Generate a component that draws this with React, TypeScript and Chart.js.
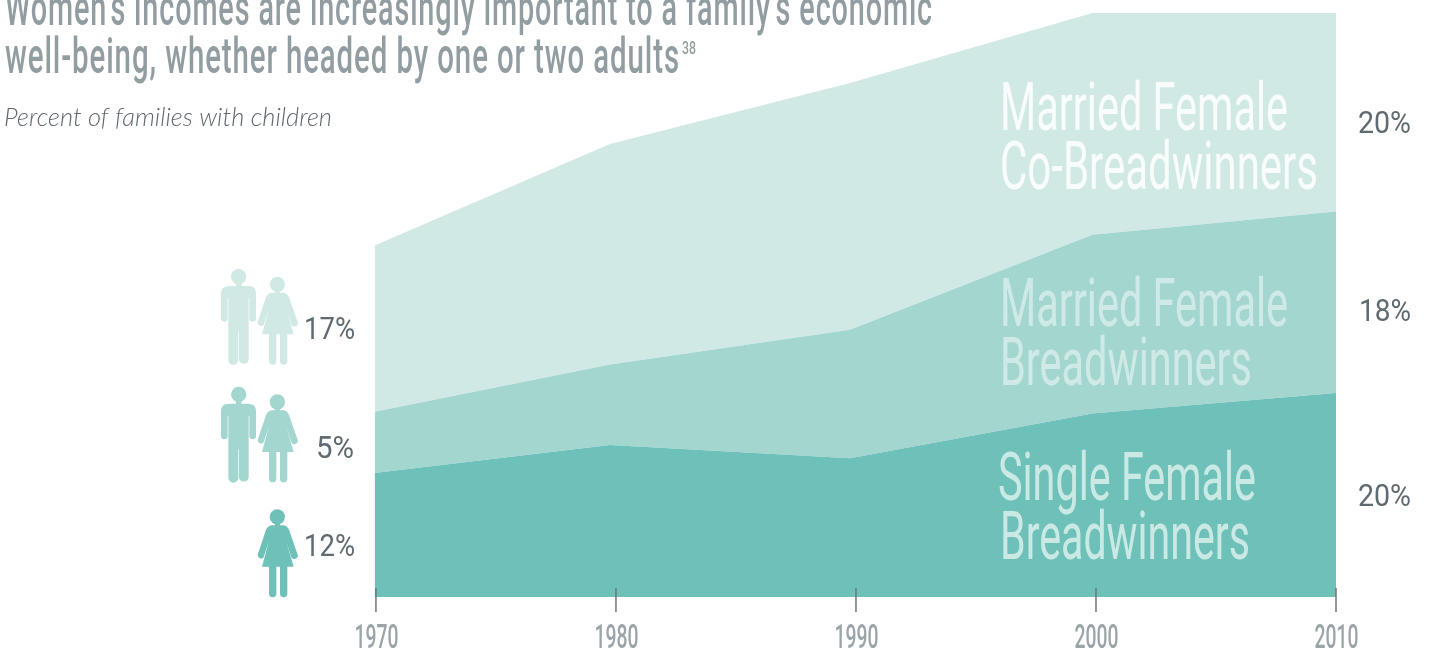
import React, { useEffect, useRef } from "react";
import { Chart, registerables } from "chart.js";

Chart.register(...registerables);

// Data
const tickYears = [1970, 1980, 1990, 2000, 2010];
const sampleYears = [1969.94, 1979.75, 1989.75, 1999.85, 2010];
const singleFemale = [12.15, 14.9, 13.6, 18.0, 20.0];
const marriedBreadwinner = [6.0, 7.9, 12.6, 17.5, 17.8];
const marriedCoBreadwinner = [16.3, 21.6, 24.2, 21.75, 19.45];
const leftLabels = ["17%", "5%", "12%"];
const rightLabels = ["20%", "18%", "20%"];
const titleLines = [
  "Women's incomes are increasingly important to a family's economic",
  "well-being, whether headed by one or two adults",
];
const subtitle = "Percent of families with children";
const footnote = "38";

const LIGHT = "#D0E9E5";
const MID = "#A4D6D0";
const DARK = "#6EC1B9";
const NUM = "#5F6A71";
const GREY = "#929DA2";

const MAN =
  "M63 175 L63 100 Q63 78 88 78 L108 78 L108 68 L124 68 L124 78 L143 78 Q168 78 168 100 L168 175 A10 10 0 0 1 148 175 L148 115 L146 115 L146 300 A15 15 0 0 1 117 300 L117 215 L115 215 L115 300 A15 15 0 0 1 85 300 L85 115 L83 115 L83 175 A10 10 0 0 1 63 175 Z";
const WOMAN =
  "M174 184 L198 112 Q203 98 218 98 L225 98 L225 90 L240 90 L240 98 L248 98 Q262 98 267 112 L292 184 A10 10 0 0 1 274 194 L258 145 L281 223 L262 223 L262 303 A11 11 0 0 1 240 303 L240 223 L229 223 L229 303 A11 11 0 0 1 207 303 L207 223 L186 223 L207 145 L191 194 A10 10 0 0 1 174 184 Z";

function person(ctx: CanvasRenderingContext2D, path: string, hx: number, hy: number, r: number, color: string, ox: number, oy: number) {
  ctx.save();
  ctx.translate(ox, oy);
  ctx.scale(1 / 3, 1 / 3);
  ctx.fillStyle = color;
  ctx.fill(new Path2D(path));
  ctx.beginPath();
  ctx.arc(hx, hy, r, 0, Math.PI * 2);
  ctx.fill();
  ctx.restore();
}

function fit(ctx: CanvasRenderingContext2D, text: string, x: number, base: number, width: number, font: string, color: string, spacing = "0px") {
  ctx.save();
  ctx.font = font;
  (ctx as any).letterSpacing = spacing;
  ctx.fillStyle = color;
  ctx.textAlign = "left";
  ctx.textBaseline = "alphabetic";
  const w = ctx.measureText(text).width;
  ctx.translate(x, base);
  ctx.scale(width / w, 1);
  ctx.fillText(text, 0, 0);
  ctx.restore();
}

const decor = {
  id: "decor",
  afterDatasetsDraw(chart: any) {
    const ctx: CanvasRenderingContext2D = chart.ctx;
    const xs = chart.scales.x;
    const cond = (s: number, w = 400) => `${w} ${s}px Roboto`;

    // Axis ticks + labels
    tickYears.forEach((yr) => {
      const px = xs.getPixelForValue(yr);
      ctx.save();
      ctx.strokeStyle = "#6C757A";
      ctx.lineWidth = 1.5;
      ctx.beginPath();
      ctx.moveTo(px, 588);
      ctx.lineTo(px, 612);
      ctx.stroke();
      ctx.restore();
      fit(ctx, String(yr), px - 21.5, 647.5, 44, cond(33, 500), "#9AA4A9");
    });

    // Title
    fit(ctx, titleLines[0], 5, 25, 928, cond(50, 500), GREY, "1.5px");
    fit(ctx, titleLines[1], 5, 73, 675, cond(50, 500), GREY, "1.5px");
    fit(ctx, footnote, 682, 54, 14, cond(19, 500), GREY);
    fit(ctx, subtitle, 4, 126, 328, "italic 300 25px Lato", "#5F696E");

    // Labels inside areas
    const big = cond(67, 400);
    fit(ctx, "Married Female", 1000, 130, 288, big, "#F8FCFB");
    fit(ctx, "Co-Breadwinners", 1000, 189, 318, big, "#F8FCFB");
    fit(ctx, "Married Female", 1000, 326, 288, big, "#CFEAE6");
    fit(ctx, "Breadwinners", 1000, 385, 252, big, "#CFEAE6");
    fit(ctx, "Single Female", 998, 500, 258, big, "#CBE9E4");
    fit(ctx, "Breadwinners", 1000, 559, 250, big, "#CBE9E4");

    // Side numbers
    const num = cond(32, 400);
    fit(ctx, leftLabels[0], 304, 339, 51, num, NUM);
    fit(ctx, leftLabels[1], 316, 458, 38, num, NUM);
    fit(ctx, leftLabels[2], 304, 556, 51, num, NUM);
    fit(ctx, rightLabels[0], 1358, 133, 53, num, NUM);
    fit(ctx, rightLabels[1], 1359, 321, 52, num, NUM);
    fit(ctx, rightLabels[2], 1358, 506, 53, num, NUM);

    // Pictograms
    person(ctx, MAN, 116, 50, 23, LIGHT, 200, 260);
    person(ctx, WOMAN, 232, 73, 23, LIGHT, 200, 260);
    person(ctx, MAN, 116, 50, 23, MID, 200, 377.7);
    person(ctx, WOMAN, 232, 73, 23, MID, 200, 377.7);
    person(ctx, WOMAN, 232, 73, 23, DARK, 200, 492.5);
  },
};

const toPoints = (vals: number[]) => vals.map((y, i) => ({ x: sampleYears[i], y }));

export default function App() {
  const ref = useRef<HTMLCanvasElement>(null);
  useEffect(() => {
    document.body.style.margin = "0";
    const chart = new Chart(ref.current!, {
      type: "line",
      data: {
        datasets: [
          { label: "Single Female Breadwinners", data: toPoints(singleFemale), backgroundColor: DARK, fill: "origin", borderWidth: 0, pointRadius: 0, tension: 0 },
          { label: "Married Female Breadwinners", data: toPoints(marriedBreadwinner), backgroundColor: MID, fill: "-1", borderWidth: 0, pointRadius: 0, tension: 0 },
          { label: "Married Female Co-Breadwinners", data: toPoints(marriedCoBreadwinner), backgroundColor: LIGHT, fill: "-1", borderWidth: 0, pointRadius: 0, tension: 0 },
        ],
      },
      options: {
        responsive: false,
        animation: false,
        layout: { padding: { left: 374.5, right: 93, top: 13, bottom: 53 } },
        plugins: { legend: { display: false }, tooltip: { enabled: false } },
        scales: {
          x: {
            type: "linear",
            display: false,
            min: sampleYears[0],
            max: 2010,
          },
          y: { display: false, stacked: true, min: 0, max: 57.25 },
        },
      },
      plugins: [decor],
    } as any);
    return () => chart.destroy();
  }, []);
  return <canvas ref={ref} width={1429} height={650} style={{ display: "block" }} />;
}
